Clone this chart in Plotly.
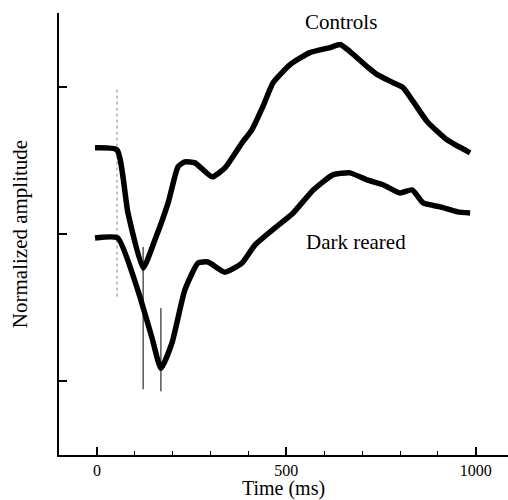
import plotly.graph_objects as go

# Time (ms) and normalized amplitude
controls_t = [-5, 53, 82, 122, 153, 188, 214, 232, 259, 304, 338, 383, 409, 438, 465,
              510, 562, 615, 642, 668, 713, 740, 782, 808, 835, 872, 924, 985]
controls_y = [0.585, 0.571, 0.143, -0.231, -0.041, 0.211, 0.456, 0.490, 0.483, 0.388,
              0.449, 0.619, 0.707, 0.864, 1.027, 1.150, 1.231, 1.265, 1.286, 1.238,
              1.136, 1.082, 1.027, 0.993, 0.898, 0.762, 0.639, 0.551]

dark_t = [-5, 55, 108, 145, 169, 198, 232, 267, 293, 338, 383, 417, 470, 518, 571,
          623, 668, 713, 756, 800, 832, 861, 906, 952, 985]
dark_y = [-0.027, -0.027, -0.381, -0.701, -0.912, -0.741, -0.381, -0.197, -0.190,
          -0.259, -0.197, -0.075, 0.041, 0.143, 0.299, 0.401, 0.415, 0.367, 0.333,
          0.279, 0.299, 0.211, 0.184, 0.150, 0.143]

# latency markers (solid) and stimulus onset marker (dotted)
marker_t = [122, 169]
marker_top = [-0.088, -0.503]
marker_bottom = [-1.054, -1.068]
onset_t = 53
onset_range = [0.98, -0.435]

x_ticks = [0, 500, 1000]
x_minor = [100, 200, 300, 400, 600, 700, 800, 900]
y_ticks = [-1, 0, 1]

FONT = "Liberation Serif"

fig = go.Figure()
fig.add_trace(go.Scatter(x=[onset_t, onset_t], y=onset_range, mode="lines",
                         line=dict(color="#888", width=1, dash="dot"), showlegend=False))
for t, a, b in zip(marker_t, marker_top, marker_bottom):
    fig.add_trace(go.Scatter(x=[t, t], y=[a, b], mode="lines",
                             line=dict(color="black", width=1), showlegend=False))
fig.add_trace(go.Scatter(x=controls_t, y=controls_y, mode="lines", name="Controls",
                         line=dict(color="black", width=5.5, shape="spline", smoothing=0.5),
                         showlegend=False))
fig.add_trace(go.Scatter(x=dark_t, y=dark_y, mode="lines", name="Dark reared",
                         line=dict(color="black", width=5.5, shape="spline", smoothing=0.5),
                         showlegend=False))

fig.add_annotation(x=643, y=1.44, text="Controls", showarrow=False,
                   font=dict(family=FONT, size=21, color="black"))
fig.add_annotation(x=685, y=-0.055, text="Dark reared", showarrow=False,
                   font=dict(family=FONT, size=21, color="black"))

fig.update_layout(
    width=508, height=500,
    margin=dict(l=59, r=0, t=13, b=45),
    paper_bgcolor="white", plot_bgcolor="white",
    font=dict(family=FONT, color="black"),
    xaxis=dict(range=[-100, 1085], tickmode="array", tickvals=x_ticks,
               ticktext=[str(v) for v in x_ticks], ticks="inside",
               ticklen=8, tickwidth=1.5, tickcolor="black", showgrid=False, zeroline=False,
               showline=True, linecolor="black", linewidth=1.5,
               tickfont=dict(family=FONT, size=16),
               minor=dict(tickmode="array", tickvals=x_minor, ticks="inside", ticklen=4,
                          tickwidth=1, tickcolor="black", showgrid=False),
               title=dict(text="Time (ms)", font=dict(family=FONT, size=20), standoff=1)),
    yaxis=dict(range=[-1.5, 1.5], tickmode="array", tickvals=y_ticks,
               ticktext=["", "", ""], ticks="inside", ticklen=8, tickwidth=1.5,
               tickcolor="black", showgrid=False, zeroline=False, showline=True,
               linecolor="black", linewidth=1.5,
               title=dict(text="Normalized amplitude", font=dict(family=FONT, size=21),
                          standoff=22)),
)

fig.write_html("out.html")
